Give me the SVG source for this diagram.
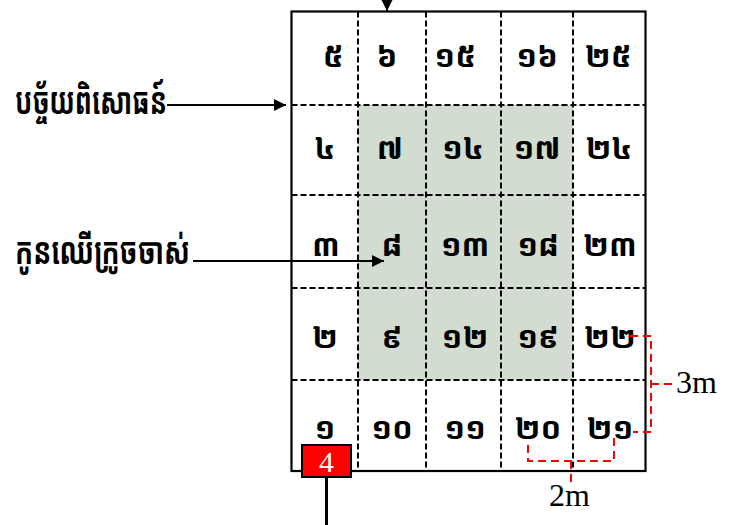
<svg xmlns="http://www.w3.org/2000/svg" width="730" height="525" viewBox="0 0 730 525">
<defs>
<style>
.km{font-family:"Noto Sans Khmer","Noto Serif Khmer","Khmer OS","Khmer OS System","DejaVu Sans",sans-serif;font-weight:bold;fill:#000}
.num{font-size:31px;text-anchor:middle}
.lbl{font-size:37px}
.grid{stroke:#000;stroke-width:2;stroke-dasharray:6,3;fill:none}
.conn{stroke:#000;stroke-width:2;fill:none}
.red{stroke:#f00;stroke-width:2;stroke-dasharray:8,5;fill:none}
.ser{font-family:"Liberation Serif","Times New Roman",serif;font-size:32px;fill:#000}
</style>
<marker id="ah" viewBox="0 0 10 10" refX="10" refY="5" markerWidth="16" markerHeight="12" markerUnits="userSpaceOnUse" orient="auto">
<path d="M0,0 L10,5 L0,10 Z" fill="#000"/>
</marker>
</defs>
<rect x="0" y="0" width="730" height="525" fill="#fff"/>
<g id="plot">
<rect x="358" y="105" width="215" height="275" fill="#d3dcd1"/>
<rect x="291.5" y="11.5" width="354" height="459.5" fill="none" stroke="#000" stroke-width="2.2"/>
<line class="grid" x1="358" y1="11.5" x2="358" y2="471"/>
<line class="grid" x1="426" y1="11.5" x2="426" y2="471"/>
<line class="grid" x1="501" y1="11.5" x2="501" y2="471"/>
<line class="grid" x1="573" y1="11.5" x2="573" y2="471"/>
<line class="grid" x1="291.5" y1="105" x2="645.5" y2="105"/>
<line class="grid" x1="291.5" y1="195" x2="645.5" y2="195"/>
<line class="grid" x1="291.5" y1="288" x2="645.5" y2="288"/>
<line class="grid" x1="291.5" y1="380" x2="645.5" y2="380"/>
</g>
<g id="numbers" class="km num">
<text x="333" y="67">៥</text><text x="387" y="67">៦</text><text x="455" y="67">១៥</text><text x="537" y="67">១៦</text><text x="608" y="67">២៥</text>
<text x="325" y="159">៤</text><text x="390" y="159">៧</text><text x="463" y="159">១៤</text><text x="537" y="159">១៧</text><text x="609" y="159">២៤</text>
<text x="326" y="256">៣</text><text x="392" y="256">៨</text><text x="465" y="256">១៣</text><text x="538" y="256">១៨</text><text x="610" y="256">២៣</text>
<text x="325" y="348">២</text><text x="392" y="348">៩</text><text x="465" y="348">១២</text><text x="538" y="348">១៩</text><text x="610" y="348">២២</text>
<text x="325" y="439">១</text><text x="392" y="439">១០</text><text x="465" y="439">១១</text><text x="538" y="439">២០</text><text x="610" y="439">២១</text>
</g>
<g id="label-factor">
<text class="km lbl" x="15" y="114" textLength="152" lengthAdjust="spacingAndGlyphs">បច្ច័យពិសោធន៍</text>
</g>
<g id="label-tree">
<text class="km lbl" x="15" y="264" textLength="175" lengthAdjust="spacingAndGlyphs">កូនឈើក្រូចចាស់</text>
</g>
<g id="tag4">
<rect x="302" y="445" width="49" height="32" fill="#f00" stroke="#000" stroke-width="2"/>
<text x="326.5" y="472" text-anchor="middle" font-family="Liberation Serif, serif" font-size="30" fill="#fff">4</text>
</g>
<g id="connectors">
<line class="conn" x1="387" y1="-10" x2="387" y2="11" marker-end="url(#ah)"/>
<line class="conn" x1="167" y1="105" x2="286" y2="105" marker-end="url(#ah)"/>
<line class="conn" x1="193" y1="261" x2="384" y2="261" marker-end="url(#ah)"/>
<line x1="326.5" y1="477" x2="326.5" y2="525" stroke="#000" stroke-width="3"/>
<path class="red" d="M630,336 H651 V432 H633"/>
<line class="red" x1="651" y1="384" x2="675" y2="384"/>
<path class="red" d="M528,445 V461 H614 V438"/>
<line class="red" x1="571" y1="461" x2="571" y2="483"/>
</g>
<g id="dims">
<text class="ser" x="676" y="393">3m</text>
<text class="ser" x="549" y="506">2m</text>
</g>
</svg>
